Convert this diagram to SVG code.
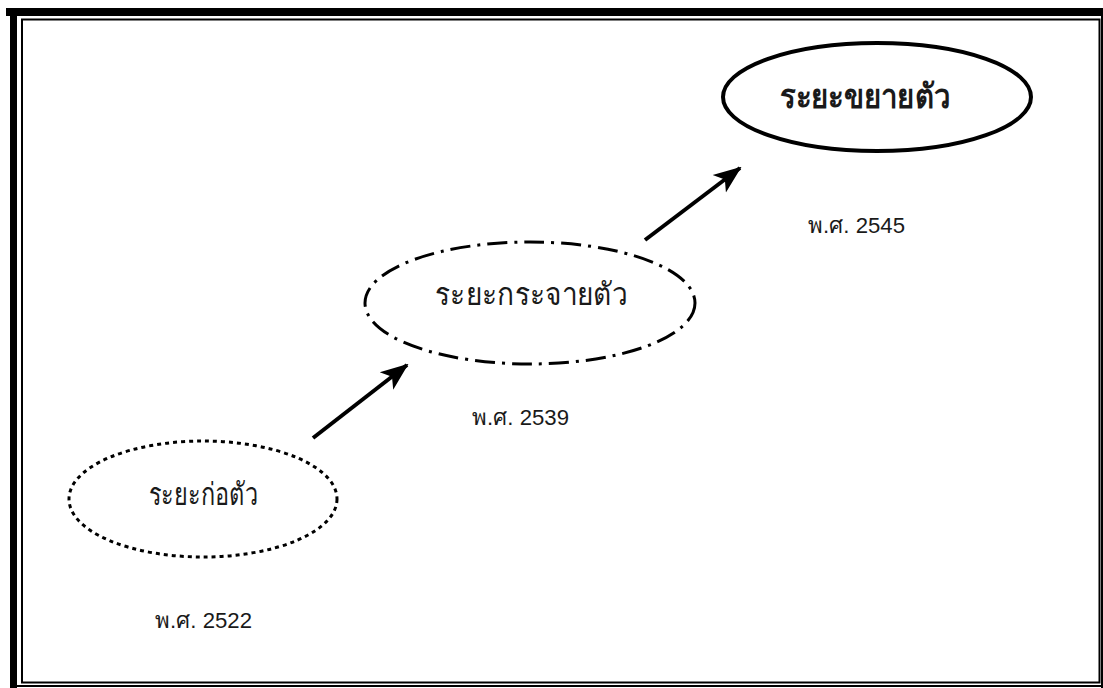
<svg xmlns="http://www.w3.org/2000/svg" width="1103" height="688" viewBox="0 0 1103 688">
<style>
.lbl{font-family:"Noto Sans","DejaVu Sans","Liberation Sans",sans-serif;fill:#1a1a1a;text-anchor:middle}
.yr{font-family:"Liberation Sans","Noto Sans","DejaVu Sans",sans-serif;font-size:22px;fill:#1a1a1a}
.conn{stroke:#000;stroke-width:4;fill:none;marker-end:url(#ah)}
</style>
<defs>
<marker id="ah" markerUnits="userSpaceOnUse" markerWidth="28" markerHeight="24" viewBox="0 0 28 24" refX="26" refY="12" orient="auto">
<path d="M0,1 L28,12 L0,23 L7,12 Z" fill="#000"/>
</marker>
</defs>
<rect width="1103" height="688" fill="#fff"/>
<g id="frame" fill="none" stroke="#000">
<line x1="6" y1="12" x2="1103" y2="12" stroke-width="8"/>
<line x1="13.5" y1="8" x2="13.5" y2="688" stroke-width="7"/>
<line x1="1102" y1="8" x2="1102" y2="688" stroke-width="2"/>
<line x1="10" y1="686" x2="1103" y2="686" stroke-width="2"/>
<rect x="22" y="19.5" width="1077.5" height="663" stroke-width="2"/>
</g>
<g id="node-formation">
<ellipse cx="203" cy="499" rx="134" ry="58" fill="none" stroke="#000" stroke-width="3" stroke-dasharray="4 4"/>
<text class="lbl" x="203" y="505" font-size="31" textLength="109" lengthAdjust="spacingAndGlyphs">ระยะก่อตัว</text>
</g>
<g id="node-spread">
<ellipse cx="530" cy="303" rx="165" ry="61" fill="none" stroke="#000" stroke-width="3" stroke-dasharray="20 7 3 7"/>
<text class="lbl" x="531" y="305" font-size="31" textLength="192" lengthAdjust="spacingAndGlyphs">ระยะกระจายตัว</text>
</g>
<g id="node-expand">
<ellipse cx="877" cy="97" rx="154" ry="54" fill="none" stroke="#000" stroke-width="4"/>
<text class="lbl" x="865" y="108" font-size="34" font-weight="bold" textLength="170" lengthAdjust="spacingAndGlyphs">ระยะขยายตัว</text>
</g>
<g id="years">
<text class="yr" x="155" y="628" textLength="97" lengthAdjust="spacingAndGlyphs">พ.ศ. 2522</text>
<text class="yr" x="472" y="425" textLength="97" lengthAdjust="spacingAndGlyphs">พ.ศ. 2539</text>
<text class="yr" x="808" y="233" textLength="97" lengthAdjust="spacingAndGlyphs">พ.ศ. 2545</text>
</g>
<g id="connectors">
<line class="conn" x1="313" y1="438" x2="407" y2="365"/>
<line class="conn" x1="645" y1="240" x2="740" y2="168"/>
</g>
</svg>
